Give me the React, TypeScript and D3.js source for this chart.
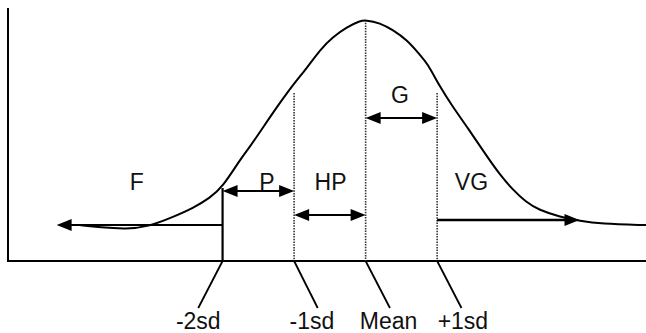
import React from 'react';
import * as d3 from 'd3';

// Curve: x in sd units from the mean, height in % of peak
const curveZ = [-4.0, -3.71, -3.34, -3.05, -2.69, -2.41, -2.18, -2.0, -1.76, -1.62, -1.43, -1.24, -1.02, -0.82, -0.64, -0.46, -0.26, -0.08, 0, 0.2, 0.38, 0.58, 0.76, 0.86, 1.04, 1.22, 1.42, 1.7, 1.88, 2.06, 2.24, 2.42, 2.72, 3.0, 3.28, 3.92];
const curveV = [14.9, 13.9, 13.3, 14.1, 18.3, 22.0, 26.1, 30.7, 41.9, 47.3, 55.6, 63.9, 73.0, 80.1, 87.6, 92.9, 97.1, 99.6, 100, 98.8, 95.9, 91.7, 85.5, 82.2, 72.2, 63.9, 55.6, 43.2, 35.7, 29.5, 24.5, 21.2, 18.3, 16.6, 15.4, 14.9];

// sd markers
const markerZ = [-2, -1, 0, 1];
const markerTop = [30.3, 69.7, 100, 69.7];
const markerSolid = [true, false, false, false];
const markerLabels = ['-2sd', '-1sd', 'Mean', '+1sd'];
const markerLabelZ = [-2.34, -0.75, 0.32, 1.36];
const markerLeaderEndZ = [-2.34, -0.67, 0.34, 1.34];

// grade bands
const gradeNames = ['F', 'P', 'HP', 'G', 'VG'];
const gradeFrom = [-2, -2, -1, 0, 1];
const gradeTo = [-4.32, -1, 0, 1, 2.99];
const gradeLevel = [14.9, 29.0, 19.1, 59.3, 17.0];
const gradeDouble = [false, true, true, true, false];
const gradeLabelZ = [-3.2, -1.38, -0.49, 0.48, 1.48];
const gradeLabelV = [29.5, 29.5, 29.5, 65.6, 29.5];

const W = 646;
const H = 333;

export default function App() {
  const x = d3.scaleLinear().domain([-5, 3.92]).range([8, 646]);
  const y = d3.scaleLinear().domain([0, 100]).range([261, 20]);
  const pts: [number, number][] = curveZ.map((z, i) => [x(z), y(curveV[i])]);
  const line = d3.line().curve(d3.curveBasis)(pts) || '';

  const headLen = 15;
  const headHalf = 6;
  const head = (tipX: number, yy: number, dir: number) => {
    const bx = tipX - dir * headLen;
    return `M${tipX},${yy}L${bx},${yy - headHalf}L${bx},${yy + headHalf}Z`;
  };

  const font = "'Liberation Sans', Arial, Helvetica, sans-serif";

  return (
    <svg width={W} height={H} style={{ position: 'absolute', left: 0, top: 0, background: '#fff' }}>
      <rect x={0} y={0} width={W} height={H} fill="#fff" />
      {/* axes */}
      <line x1={x(-5)} y1={y(105)} x2={x(-5)} y2={y(0) + 1} stroke="#000" strokeWidth={2} />
      <line x1={x(-5)} y1={y(0)} x2={W} y2={y(0)} stroke="#000" strokeWidth={2} />
      {/* markers */}
      {markerZ.map((z, i) => (
        <g key={'m' + i}>
          <line
            x1={x(z)} y1={y(markerTop[i])} x2={x(z)} y2={y(0)}
            stroke={markerSolid[i] ? '#000' : '#333'}
            strokeWidth={markerSolid[i] ? 2.2 : 1.6}
            strokeDasharray={markerSolid[i] ? undefined : '1.5,1.2'}
          />
          <line x1={x(z)} y1={y(0)} x2={x(markerLeaderEndZ[i])} y2={308} stroke="#000" strokeWidth={1.8} />
          <text x={x(markerLabelZ[i])} y={329} textAnchor="middle" fontFamily={font} fontSize={23} fill="#111">
            {markerLabels[i]}
          </text>
        </g>
      ))}
      {/* curve */}
      <path d={line} fill="none" stroke="#000" strokeWidth={2} />
      {/* grade arrows */}
      {gradeNames.map((g, i) => {
        const a = x(gradeFrom[i]);
        const b = x(gradeTo[i]);
        const yy = y(gradeLevel[i]);
        const dir = b > a ? 1 : -1;
        const x1 = gradeDouble[i] ? a + dir * (headLen - 2) : a;
        const x2 = b - dir * (headLen - 2);
        return (
          <g key={'g' + i}>
            <line x1={x1} y1={yy} x2={x2} y2={yy} stroke="#000" strokeWidth={i === 4 ? 2.6 : 2} />
            <path d={head(b, yy, dir)} fill="#000" />
            {gradeDouble[i] && <path d={head(a, yy, -dir)} fill="#000" />}
            <text x={x(gradeLabelZ[i])} y={y(gradeLabelV[i])} textAnchor="middle" fontFamily={font} fontSize={23} fill="#111">
              {g}
            </text>
          </g>
        );
      })}
    </svg>
  );
}
